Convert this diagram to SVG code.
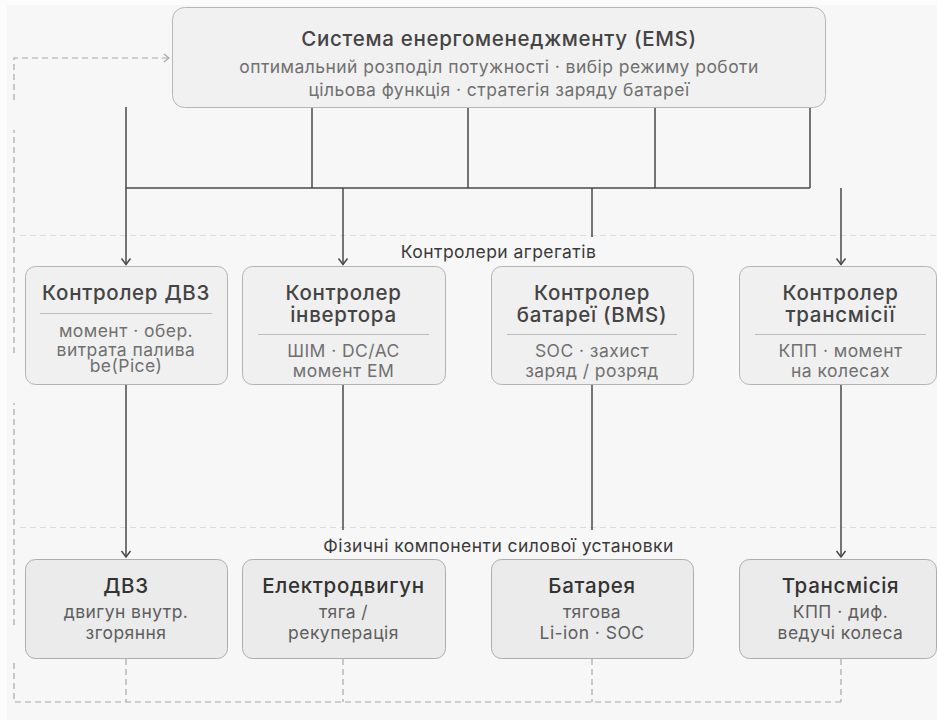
<svg xmlns="http://www.w3.org/2000/svg" width="937" height="720" viewBox="0 0 937 720">
  <style>
    text { font-family: Inter, "Noto Sans", "DejaVu Sans", sans-serif; text-anchor: middle; }
    .ems { fill: #f1f1f1; stroke: #b7b7b7; stroke-width: 1; }
    .ctl { fill: #f0f0f0; stroke: #b3b3b3; stroke-width: 1; }
    .phy { fill: #ebebeb; stroke: #adadad; stroke-width: 1; }
    .title { font-size: 20.5px; font-weight: 500; letter-spacing: 0.7px; fill: #444; }
    .ptitle { font-size: 20.5px; font-weight: 500; letter-spacing: 0.7px; fill: #333; }
    .sub { font-size: 17.5px; letter-spacing: 0.45px; fill: #707070; }
    .psub { font-size: 17.5px; letter-spacing: 0.45px; fill: #5e5e5e; }
    .sec { font-size: 17.5px; letter-spacing: 0.45px; fill: #3a3a3a; }
    .div { stroke: #bdbdbd; stroke-width: 1; }
    .band { stroke: #dcdcdc; stroke-width: 1; stroke-dasharray: 6 4; fill: none; }
    .wire { stroke: #4a4a4a; stroke-width: 1.5; fill: none; }
    .fb { stroke: #a8a8a8; stroke-width: 1.2; stroke-dasharray: 6 4; fill: none; }
  </style>
  <defs>
    <marker id="arrow" viewBox="-8 -6 10 12" refX="0" refY="0" markerWidth="10" markerHeight="12" markerUnits="userSpaceOnUse" orient="auto">
      <path d="M-6,-4.5 L0,0 L-6,4.5" fill="none" stroke="#4a4a4a" stroke-width="1.5"/>
    </marker>
    <marker id="arrow-fb" viewBox="-8 -6 10 12" refX="0" refY="0" markerWidth="10" markerHeight="12" markerUnits="userSpaceOnUse" orient="auto">
      <path d="M-5,-4 L0,0 L-5,4" fill="none" stroke="#a8a8a8" stroke-width="1.2"/>
    </marker>
  </defs>

  <!-- canvas -->
  <rect x="0" y="0" width="937" height="720" fill="#fcfcfc"/>
  <rect x="7" y="5" width="930" height="715" fill="#f7f7f7"/>

  <!-- layer separators -->
  <g id="bands">
    <path class="band" d="M20 235.5 H937"/>
    <path class="band" d="M20 527.5 H937"/>
    <text class="sec" x="498.5" y="258">Контролери агрегатів</text>
    <text class="sec" x="498.5" y="552">Фізичні компоненти силової установки</text>
  </g>

  <!-- connectors -->
  <g id="connectors">
    <path class="wire" d="M126 107 V188 H810 M312 107 V188 M468 107 V188 M655 107 V188 M810 107 V188"/>
    <path class="wire" d="M126 188 V264.5" marker-end="url(#arrow)"/>
    <path class="wire" d="M343 188 V264.5" marker-end="url(#arrow)"/>
    <path class="wire" d="M592 188 V237"/>
    <path class="wire" d="M841 188 V264.5" marker-end="url(#arrow)"/>
    <path class="wire" d="M126 385 V557" marker-end="url(#arrow)"/>
    <path class="wire" d="M343 385 V530"/>
    <path class="wire" d="M592 385 V530"/>
    <path class="wire" d="M841 385 V557" marker-end="url(#arrow)"/>
    <!-- feedback loop from the plant back to the EMS -->
    <path class="fb" d="M126 659 V702 M343 659 V702 M592 659 V702 M841 659 V702 M841 702 H14 V662 M14 625 V403 M14 353 V130"/>
    <path class="fb" d="M14 100 V58 H169" marker-end="url(#arrow-fb)"/>
  </g>

  <!-- energy management system -->
  <g id="ems">
    <rect class="ems" x="172.5" y="7.5" width="653" height="100" rx="12"/>
    <text class="title" x="499" y="46">Система енергоменеджменту (EMS)</text>
    <text class="sub" x="499" y="73">оптимальний розподіл потужності · вибір режиму роботи</text>
    <text class="sub" x="499" y="96">цільова функція · стратегія заряду батареї</text>
  </g>

  <!-- unit controllers -->
  <g id="ctl-ice">
    <rect class="ctl" x="25.5" y="266.5" width="202" height="118" rx="10"/>
    <text class="title" x="126" y="300">Контролер ДВЗ</text>
    <line class="div" x1="40" y1="313.5" x2="212" y2="313.5"/>
    <text class="sub" x="126" y="337">момент · обер.</text>
    <text class="sub" x="126" y="356">витрата палива</text>
    <text class="sub" x="126" y="372">be(Pice)</text>
  </g>
  <g id="ctl-inverter">
    <rect class="ctl" x="242.5" y="266.5" width="203" height="118" rx="10"/>
    <text class="title" x="343.5" y="300">Контролер</text>
    <text class="title" x="343.5" y="322">інвертора</text>
    <line class="div" x1="258" y1="334.5" x2="429" y2="334.5"/>
    <text class="sub" x="343.5" y="357">ШІМ · DC/AC</text>
    <text class="sub" x="343.5" y="377">момент ЕМ</text>
  </g>
  <g id="ctl-bms">
    <rect class="ctl" x="491.5" y="266.5" width="202" height="118" rx="10"/>
    <text class="title" x="592" y="300">Контролер</text>
    <text class="title" x="592" y="322">батареї (BMS)</text>
    <line class="div" x1="507" y1="334.5" x2="677" y2="334.5"/>
    <text class="sub" x="592" y="357">SOC · захист</text>
    <text class="sub" x="592" y="377">заряд / розряд</text>
  </g>
  <g id="ctl-transmission">
    <rect class="ctl" x="739.5" y="266.5" width="197" height="118" rx="10"/>
    <text class="title" x="840.5" y="300">Контролер</text>
    <text class="title" x="840.5" y="322">трансмісії</text>
    <line class="div" x1="755" y1="334.5" x2="926" y2="334.5"/>
    <text class="sub" x="840.5" y="357">КПП · момент</text>
    <text class="sub" x="840.5" y="377">на колесах</text>
  </g>

  <!-- powertrain components -->
  <g id="ice">
    <rect class="phy" x="25.5" y="559.5" width="202" height="99" rx="10"/>
    <text class="ptitle" x="126" y="593">ДВЗ</text>
    <text class="psub" x="126" y="618">двигун внутр.</text>
    <text class="psub" x="126" y="639">згоряння</text>
  </g>
  <g id="motor">
    <rect class="phy" x="242.5" y="559.5" width="203" height="99" rx="10"/>
    <text class="ptitle" x="343.5" y="593">Електродвигун</text>
    <text class="psub" x="343.5" y="618">тяга /</text>
    <text class="psub" x="343.5" y="639">рекуперація</text>
  </g>
  <g id="battery">
    <rect class="phy" x="491.5" y="559.5" width="202" height="99" rx="10"/>
    <text class="ptitle" x="592" y="593">Батарея</text>
    <text class="psub" x="592" y="618">тягова</text>
    <text class="psub" x="592" y="639">Li-ion · SOC</text>
  </g>
  <g id="transmission">
    <rect class="phy" x="739.5" y="559.5" width="197" height="99" rx="10"/>
    <text class="ptitle" x="840.5" y="593">Трансмісія</text>
    <text class="psub" x="840.5" y="618">КПП · диф.</text>
    <text class="psub" x="840.5" y="639">ведучі колеса</text>
  </g>
</svg>
